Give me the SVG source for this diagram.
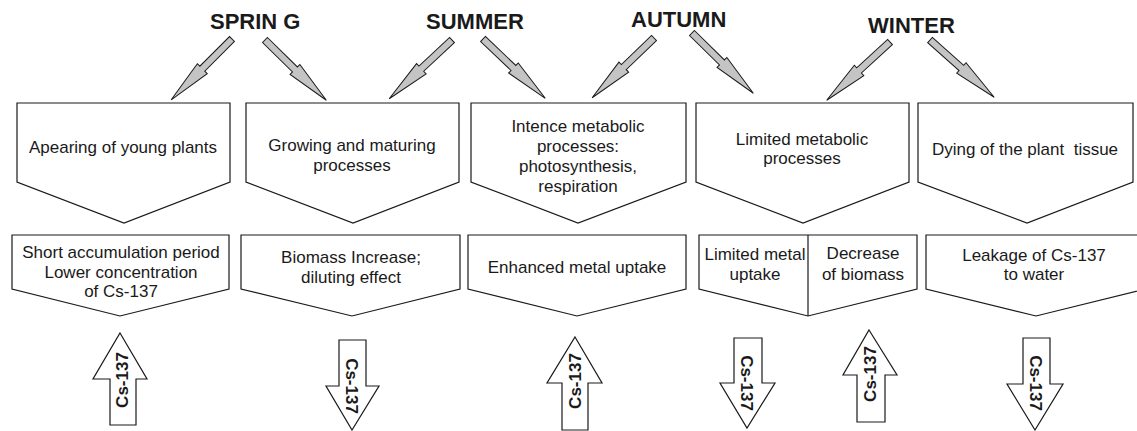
<svg xmlns="http://www.w3.org/2000/svg" width="1137" height="431" viewBox="0 0 1137 431">
<defs>
<style>
.box{fill:#fff;stroke:#1a1a1a;stroke-width:1.2;stroke-linejoin:miter}
.t{font-family:"Liberation Sans",Arial,sans-serif;font-size:17px;fill:#1a1a1a;text-anchor:middle}
.s{font-family:"Liberation Sans",Arial,sans-serif;font-size:22px;font-weight:bold;fill:#1a1a1a}
.c{font-family:"Liberation Sans",Arial,sans-serif;font-size:17px;font-weight:bold;fill:#1a1a1a;text-anchor:middle}
.ga{fill:#c4c4c4;stroke:#1a1a1a;stroke-width:1}
.ba{fill:#fff;stroke:#1a1a1a;stroke-width:1.2}
</style>
<path id="garrow" d="M0,-3.5 L42,-3.5 L42,-7 L86,0 L42,7 L42,3.5 L0,3.5 Z"/>
</defs>
<rect width="1137" height="431" fill="#fff"/>

<g id="seasons">
<text class="s" x="210" y="29">SPRIN G</text>
<text class="s" x="426" y="29">SUMMER</text>
<text class="s" x="631" y="27">AUTUMN</text>
<text class="s" x="868" y="33">WINTER</text>
</g>

<g id="connectors">
<use href="#garrow" class="ga" transform="translate(232,39) rotate(135)"/>
<use href="#garrow" class="ga" transform="translate(265,40) rotate(44.5)"/>
<use href="#garrow" class="ga" transform="translate(452,40) rotate(136.9)"/>
<use href="#garrow" class="ga" transform="translate(483,39) rotate(43.6)"/>
<use href="#garrow" class="ga" transform="translate(654,38) rotate(136)"/>
<use href="#garrow" class="ga" transform="translate(692,33) rotate(44.5)"/>
<use href="#garrow" class="ga" transform="translate(890,42) rotate(137.4)"/>
<use href="#garrow" class="ga" transform="translate(930,40) rotate(41.7)"/>
</g>

<g id="p1">
<polygon class="box" points="17,103 230,103 230,182 124,223 17,182"/>
<text class="t" x="123" y="153">Apearing of young plants</text>
</g>
<g id="p2">
<polygon class="box" points="246,103 459,103 459,182 353,223 246,182"/>
<text class="t" x="352" y="151">Growing and maturing</text>
<text class="t" x="352" y="171">processes</text>
</g>
<g id="p3">
<polygon class="box" points="471,103 686,103 686,182 578,223 471,182"/>
<text class="t" x="578" y="132">Intence metabolic</text>
<text class="t" x="578" y="152">processes:</text>
<text class="t" x="578" y="172">photosynthesis,</text>
<text class="t" x="578" y="192">respiration</text>
</g>
<g id="p4">
<polygon class="box" points="696,103 909,103 909,182 803,223 696,182"/>
<text class="t" x="802" y="145">Limited metabolic</text>
<text class="t" x="802" y="164">processes</text>
</g>
<g id="p5">
<polygon class="box" points="918,103 1133,103 1133,182 1027,223 918,182"/>
<text class="t" x="1025" y="155" xml:space="preserve">Dying of the plant  tissue</text>
</g>

<g id="r1">
<polygon class="box" points="12,235 229,235 229,289 120,316 12,289"/>
<text class="t" x="121" y="258">Short accumulation period</text>
<text class="t" x="121" y="278">Lower concentration</text>
<text class="t" x="121" y="297">of Cs-137</text>
</g>
<g id="r2">
<polygon class="box" points="241,235 460,235 460,289 352,316 241,289"/>
<text class="t" x="351" y="263">Biomass Increase;</text>
<text class="t" x="351" y="283">diluting effect</text>
</g>
<g id="r3">
<polygon class="box" points="468,235 686,235 686,289 577,316 468,289"/>
<text class="t" x="577" y="273">Enhanced metal uptake</text>
</g>
<g id="r4">
<polygon class="box" points="699,235 917,235 917,289 808,316 699,289"/>
<line x1="808" y1="235" x2="808" y2="316" stroke="#1a1a1a" stroke-width="1.2"/>
<text class="t" x="755" y="260">Limited metal</text>
<text class="t" x="755" y="280">uptake</text>
<text class="t" x="863" y="259">Decrease</text>
<text class="t" x="863" y="280">of biomass</text>
</g>
<g id="r5">
<polygon class="box" points="926,235 1146,235 1146,289 1036,316 926,289"/>
<text class="t" x="1034" y="261">Leakage of Cs-137</text>
<text class="t" x="1034" y="280">to water</text>
</g>

<g id="b1">
<polygon class="ba" points="120,333 147,379 136,379 136,425 110,425 110,379 93,379"/>
<text class="c" transform="translate(122,380) rotate(-90)" y="6">Cs-137</text>
</g>
<g id="b2">
<polygon class="ba" points="339,340 366,340 366,386 379,386 352,430 326,386 339,386"/>
<text class="c" transform="translate(352,386) rotate(90)" y="6">Cs-137</text>
</g>
<g id="b3">
<polygon class="ba" points="575,337 602,383 588,383 588,430 562,430 562,383 547,383"/>
<text class="c" transform="translate(575,381) rotate(-90)" y="6">Cs-137</text>
</g>
<g id="b4">
<polygon class="ba" points="734,338 762,338 762,383 775,383 747,428 720,383 734,383"/>
<text class="c" transform="translate(747,383) rotate(90)" y="6">Cs-137</text>
</g>
<g id="b5">
<polygon class="ba" points="869,330 897,375 885,375 885,422 857,422 857,375 843,375"/>
<text class="c" transform="translate(870,374) rotate(-90)" y="6">Cs-137</text>
</g>
<g id="b6">
<polygon class="ba" points="1023,338 1050,338 1050,384 1063,384 1035,430 1007,384 1023,384"/>
<text class="c" transform="translate(1036,383) rotate(90)" y="6">Cs-137</text>
</g>
</svg>
